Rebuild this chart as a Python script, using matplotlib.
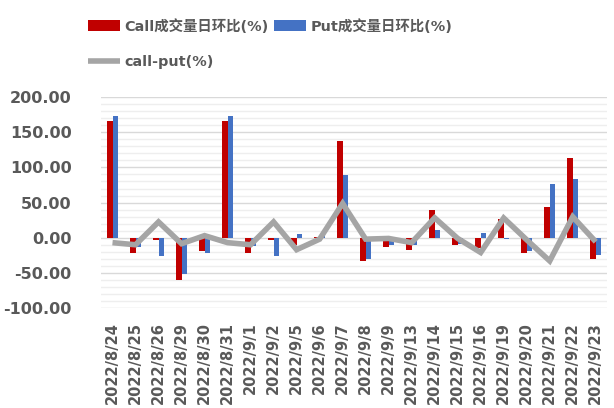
import matplotlib
matplotlib.use("Agg")
import matplotlib.pyplot as plt
import numpy as np
from matplotlib.ticker import MultipleLocator, FormatStrFormatter

dates = ['2022/8/24', '2022/8/25', '2022/8/26', '2022/8/29', '2022/8/30', '2022/8/31',
         '2022/9/1', '2022/9/2', '2022/9/5', '2022/9/6', '2022/9/7', '2022/9/8',
         '2022/9/9', '2022/9/13', '2022/9/14', '2022/9/15', '2022/9/16', '2022/9/19',
         '2022/9/20', '2022/9/21', '2022/9/22', '2022/9/23']
call_vals = [165.8, -22.0, -3.0, -60.5, -18.5, 165.8, -22.0, -3.0, -11.0, 1.5, 137.8, -32.6,
             -12.5, -17.5, 39.3, -10.5, -14.0, 26.0, -22.0, 44.0, 112.8, -30.7]
put_vals = [172.9, -13.0, -25.5, -52.0, -21.5, 172.9, -12.0, -25.5, 6.0, 3.0, 89.0, -30.7,
            -11.0, -10.4, 11.0, -9.0, 7.0, -2.0, -19.0, 77.0, 83.0, -25.0]
diff_vals = [-7.0, -10.0, 22.5, -8.5, 3.0, -7.0, -10.0, 22.5, -17.0, -2.0, 48.8, -2.0,
             -1.0, -7.0, 28.3, -1.0, -21.0, 28.0, -3.0, -33.0, 29.8, -5.7]
labels = ['Call成交量日环比(%)', 'Put成交量日环比(%)', 'call-put(%)']

TXT = '#595959'
fig = plt.figure(figsize=(6.14, 4.08), dpi=100)
ax = fig.add_axes([0.1645, 0.245, 0.8245, 0.517])

x = np.arange(len(dates))
w = 0.24
b1 = ax.bar(x - w / 2, call_vals, width=w, color='#c00000', zorder=3)
b2 = ax.bar(x + w / 2, put_vals, width=w, color='#4472c4', zorder=3)
ln, = ax.plot(x, diff_vals, color='#a5a5a5', lw=4.0, zorder=4,
              solid_joinstyle='miter', solid_capstyle='butt')

ax.set_xlim(-0.5, len(dates) - 0.5)
ax.set_ylim(-100, 200)
ax.yaxis.set_major_locator(MultipleLocator(50))
ax.yaxis.set_minor_locator(MultipleLocator(10))
ax.yaxis.set_major_formatter(FormatStrFormatter('%.2f'))
ax.grid(axis='y', which='major', color='#d9d9d9', lw=1.0, zorder=0)
ax.grid(axis='y', which='minor', color='#eeeeee', lw=1.0, zorder=0)
for s in ax.spines.values():
    s.set_visible(False)
ax.tick_params(axis='y', which='both', length=0, pad=21, labelsize=11.5, labelcolor=TXT)
ax.tick_params(axis='x', length=0, pad=10, labelsize=10.5, labelcolor=TXT)
ax.set_xticks(x)
ax.set_xticklabels(dates, rotation=90)
for t in ax.get_yticklabels() + ax.get_xticklabels():
    t.set_fontweight('bold')

fig.legend([b1, ln, b2], [labels[0], labels[2], labels[1]], ncol=2,
           loc='upper left', bbox_to_anchor=(88 / 614, 1 - 19 / 408),
           frameon=False, borderpad=0, borderaxespad=0,
           handlelength=2.2, handleheight=0.8, handletextpad=0.3,
           columnspacing=0.4, labelspacing=1.45,
           prop={'family': ['DejaVu Sans', 'Noto Sans CJK SC'], 'weight': 'bold', 'size': 10.4},
           labelcolor=TXT)

fig.savefig('out.png', dpi=100)
